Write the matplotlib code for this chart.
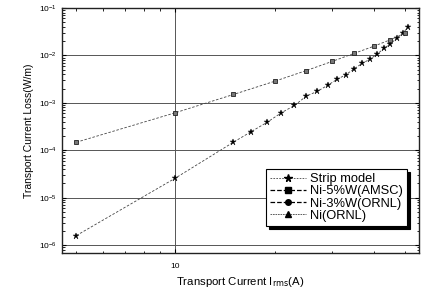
import matplotlib
matplotlib.use("Agg")
import matplotlib.pyplot as plt
from matplotlib.ticker import LogLocator, FixedLocator, NullFormatter, FixedFormatter
from matplotlib.lines import Line2D

plt.rcParams['font.family'] = ['Liberation Sans', 'DejaVu Sans']

# Strip model (theory)
strip_I = [5, 10, 15, 17, 19, 21, 23, 25, 27, 29, 31, 33, 35, 37, 39, 41, 43, 45, 47, 49, 51]
strip_L = [1.6e-6, 2.6e-5, 1.48e-4, 2.48e-4, 3.9e-4, 6.2e-4, 8.8e-4, 1.39e-3, 1.75e-3,
           2.34e-3, 3.13e-3, 3.94e-3, 5.27e-3, 6.84e-3, 8.3e-3, 1.06e-2, 1.4e-2,
           1.75e-2, 2.28e-2, 2.95e-2, 3.9e-2]

# Ni-5%W (AMSC) measurement
amsc_I = [5, 10, 15, 20, 25, 30, 35, 40, 45, 50]
amsc_L = [1.48e-4, 6.2e-4, 1.5e-3, 2.84e-3, 4.8e-3, 7.5e-3, 1.11e-2, 1.55e-2, 2.14e-2, 2.95e-2]

# Series listed in legend only
ornl3_I, ornl3_L = [], []
ni_I, ni_L = [], []

labels = ["Strip model", "Ni-5%W(AMSC)", "Ni-3%W(ORNL)", "Ni(ORNL)"]

fig = plt.figure(figsize=(4.22, 2.94), dpi=100)
ax = fig.add_axes([0.147, 0.139, 0.846, 0.834])

ax.set_xscale('log')
ax.set_yscale('log')
ax.set_xlim(4.52, 55)
ax.set_ylim(6.8e-7, 0.1)

ax.grid(True, which='major', color='#555555', linewidth=0.7)
ax.set_axisbelow(True)

lc = '#444444'
ax.plot(strip_I, strip_L, linestyle=(0, (3, 2)), color=lc, linewidth=0.6,
        marker='*', markersize=5, markerfacecolor='black', markeredgecolor='black',
        markeredgewidth=0.3, zorder=3)
ax.plot(amsc_I, amsc_L, linestyle=(0, (3, 2)), color=lc, linewidth=0.6,
        marker='s', markersize=3.3, markerfacecolor='#777777', markeredgecolor='#222222',
        markeredgewidth=0.6, zorder=3)
ax.plot(ornl3_I, ornl3_L, linestyle='--', color=lc, marker='o')
ax.plot(ni_I, ni_L, linestyle='--', color=lc, marker='^')

ax.xaxis.set_major_locator(FixedLocator([10]))
ax.xaxis.set_major_formatter(FixedFormatter(['10']))
ax.xaxis.set_minor_locator(FixedLocator([5, 6, 7, 8, 9, 20, 30, 40, 50]))
ax.xaxis.set_minor_formatter(NullFormatter())

ax.yaxis.set_major_locator(LogLocator(base=10, numticks=10))
ax.yaxis.set_minor_locator(LogLocator(base=10, subs=range(2, 10), numticks=20))
ax.yaxis.set_minor_formatter(NullFormatter())

ax.tick_params(which='both', direction='in', top=True, right=True, labelsize=6, colors='black')
ax.tick_params(which='major', length=3, width=0.8)
ax.tick_params(which='minor', length=1.8, width=0.6)
ax.tick_params(axis='x', pad=7)
for s in ax.spines.values():
    s.set_linewidth(1.0)
    s.set_color('#222222')

ax.set_xlabel(r'Transport Current I$_{\rm rms}$(A)', fontsize=8.2, labelpad=4)
ax.set_ylabel('Transport Current Loss(W/m)', fontsize=7.5, labelpad=4)

handles = [
    Line2D([], [], linestyle=(0, (2, 1.5)), color=lc, linewidth=0.6, marker='*',
           markersize=5.5, markerfacecolor='black', markeredgecolor='black'),
    Line2D([], [], linestyle='--', color='black', linewidth=0.9, marker='s',
           markersize=4, markerfacecolor='black', markeredgecolor='black'),
    Line2D([], [], linestyle='--', color='black', linewidth=0.9, marker='o',
           markersize=4, markerfacecolor='black', markeredgecolor='black'),
    Line2D([], [], linestyle=(0, (2, 1)), color=lc, linewidth=0.6, marker='^',
           markersize=4, markerfacecolor='black', markeredgecolor='black'),
]
leg = ax.legend(handles, labels, loc='lower right', bbox_to_anchor=(0.985, 0.085),
                fontsize=9.3, frameon=True, fancybox=False, shadow={'color': 'black', 'alpha': 1},
                edgecolor='black', framealpha=1, handlelength=2.8, handletextpad=0.35,
                labelspacing=0.02, borderpad=0.3)
leg.get_frame().set_linewidth(0.8)

fig.savefig('out.png', dpi=100)
